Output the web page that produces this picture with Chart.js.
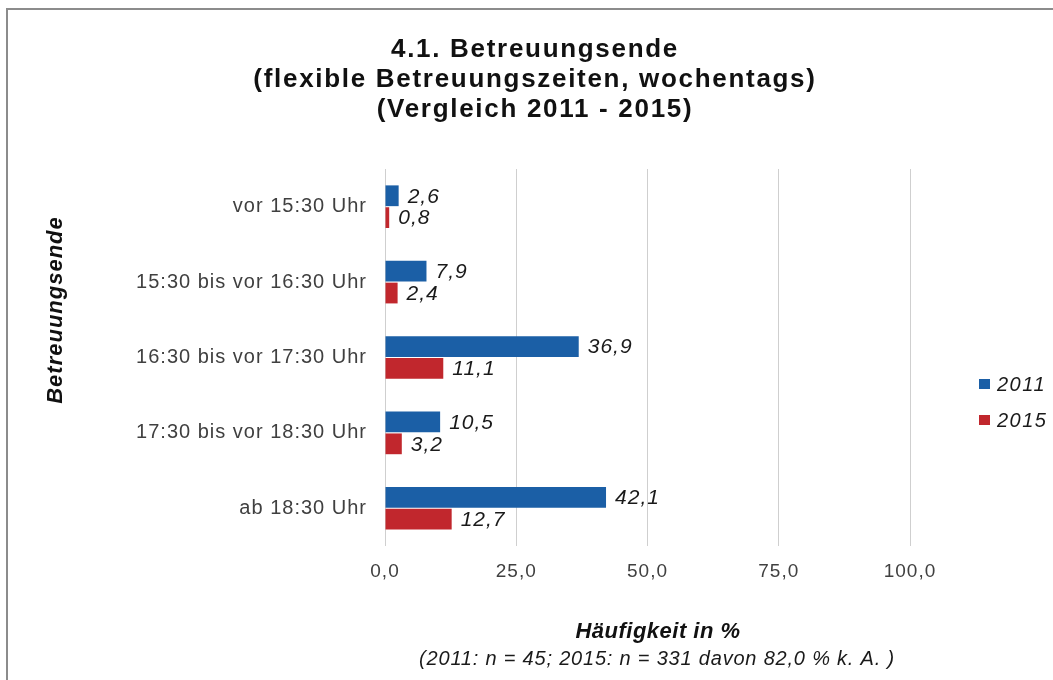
<!DOCTYPE html>
<html>
<head>
<meta charset="utf-8">
<script src="https://cdn.jsdelivr.net/npm/chart.js@4.4.1/dist/chart.umd.min.js"></script>
<style>
  html, body { margin: 0; padding: 0; background: #fff; }
  canvas { display: block; }
</style>
</head>
<body>
<canvas id="chart" width="1053" height="680"></canvas>
<script>
const categories = ['vor 15:30 Uhr', '15:30 bis vor 16:30 Uhr', '16:30 bis vor 17:30 Uhr', '17:30 bis vor 18:30 Uhr', 'ab 18:30 Uhr'];
const values2011 = [2.6, 7.9, 36.9, 10.5, 42.1];
const values2015 = [0.8, 2.4, 11.1, 3.2, 12.7];
const seriesNames = ['2011', '2015'];
const xTicks = [0, 25, 50, 75, 100];
const titleLines = ['4.1. Betreuungsende', '(flexible Betreuungszeiten, wochentags)', '(Vergleich 2011 - 2015)'];
const yTitle = 'Betreuungsende';
const xTitle = 'Häufigkeit in %';
const xNote = '(2011: n = 45; 2015: n = 331 davon 82,0 % k. A. )';

const FONT = '"Liberation Sans", Arial, sans-serif';
const BLUE = '#1b5fa6';
const RED = '#c1272d';

function fmt(v) {
    return Number(v).toFixed(1).replace('.', ',');
}

function drawText(ctx, str, x, y, font, color, align, spacing) {
    ctx.save();
    ctx.font = font;
    ctx.fillStyle = color;
    ctx.textAlign = align || 'left';
    ctx.textBaseline = 'alphabetic';
    ctx.letterSpacing = spacing || '0px';
    ctx.fillText(str, x, y);
    ctx.restore();
}

const decor = {
    id: 'decor',
    beforeDraw(chart) {
        const ctx = chart.ctx;
        ctx.save();
        ctx.strokeStyle = '#8c8c8c';
        ctx.lineWidth = 2;
        ctx.beginPath();
        ctx.moveTo(7, 680);
        ctx.lineTo(7, 9);
        ctx.lineTo(1053, 9);
        ctx.stroke();
        ctx.restore();
        // spacing used by the axis tick labels
        ctx.letterSpacing = '1px';
    },
    afterDatasetsDraw(chart) {
        const ctx = chart.ctx;
        chart.data.datasets.forEach(function (ds, i) {
            const meta = chart.getDatasetMeta(i);
            meta.data.forEach(function (bar, j) {
                ctx.save();
                ctx.font = 'italic 21px ' + FONT;
                ctx.fillStyle = '#1a1a1a';
                ctx.textAlign = 'left';
                ctx.textBaseline = 'middle';
                ctx.letterSpacing = '1px';
                ctx.fillText(fmt(ds.data[j]), bar.x + 9, bar.y + 1);
                ctx.restore();
            });
        });
    },
    afterDraw(chart) {
        const ctx = chart.ctx;
        ctx.letterSpacing = '0px';

        titleLines.forEach(function (line, i) {
            drawText(ctx, line, 535, 57 + i * 30, 'bold 26px ' + FONT, '#111', 'center', '1.7px');
        });

        ctx.save();
        ctx.translate(62, 310);
        ctx.rotate(-Math.PI / 2);
        drawText(ctx, yTitle, 0, 0, 'italic bold 22px ' + FONT, '#111', 'center', '1px');
        ctx.restore();

        drawText(ctx, xTitle, 658, 638, 'italic bold 22px ' + FONT, '#111', 'center', '0.5px');
        drawText(ctx, xNote, 657, 665, 'italic 20px ' + FONT, '#1a1a1a', 'center', '0.8px');

        chart.data.datasets.forEach(function (ds, i) {
            const y = 379 + i * 36;
            ctx.save();
            ctx.fillStyle = ds.backgroundColor;
            ctx.fillRect(979, y, 11, 10);
            ctx.restore();
            drawText(ctx, ds.label, 997, y + 12, 'italic 20px ' + FONT, '#1a1a1a', 'left', '1.5px');
        });
    }
};

new Chart(document.getElementById('chart'), {
    type: 'bar',
    data: {
        labels: categories,
        datasets: [{
            label: seriesNames[0],
            data: values2011,
            backgroundColor: BLUE,
            categoryPercentage: 0.58,
            barPercentage: 0.95
        }, {
            label: seriesNames[1],
            data: values2015,
            backgroundColor: RED,
            categoryPercentage: 0.58,
            barPercentage: 0.95
        }]
    },
    options: {
        indexAxis: 'y',
        responsive: false,
        animation: false,
        layout: {
            padding: { top: 169, right: 143, bottom: 94, left: 0 }
        },
        plugins: {
            legend: { display: false },
            title: { display: false },
            tooltip: { enabled: false }
        },
        scales: {
            x: {
                min: 0,
                max: 100,
                afterBuildTicks: function (scale) {
                    scale.ticks = xTicks.map(function (v) { return { value: v }; });
                },
                afterFit: function (scale) { scale.height = 40; },
                grid: { color: '#cfcfcf', lineWidth: 1, drawTicks: false },
                border: { display: false },
                ticks: {
                    padding: 14,
                    color: '#404040',
                    font: { family: FONT, size: 19 },
                    callback: function (v) { return fmt(v); }
                }
            },
            y: {
                afterFit: function (scale) { scale.width = 385; },
                grid: { display: false, drawTicks: false },
                border: { display: false },
                ticks: {
                    padding: 18,
                    color: '#404040',
                    font: { family: FONT, size: 20 }
                }
            }
        }
    },
    plugins: [decor]
});
</script>
</body>
</html>
